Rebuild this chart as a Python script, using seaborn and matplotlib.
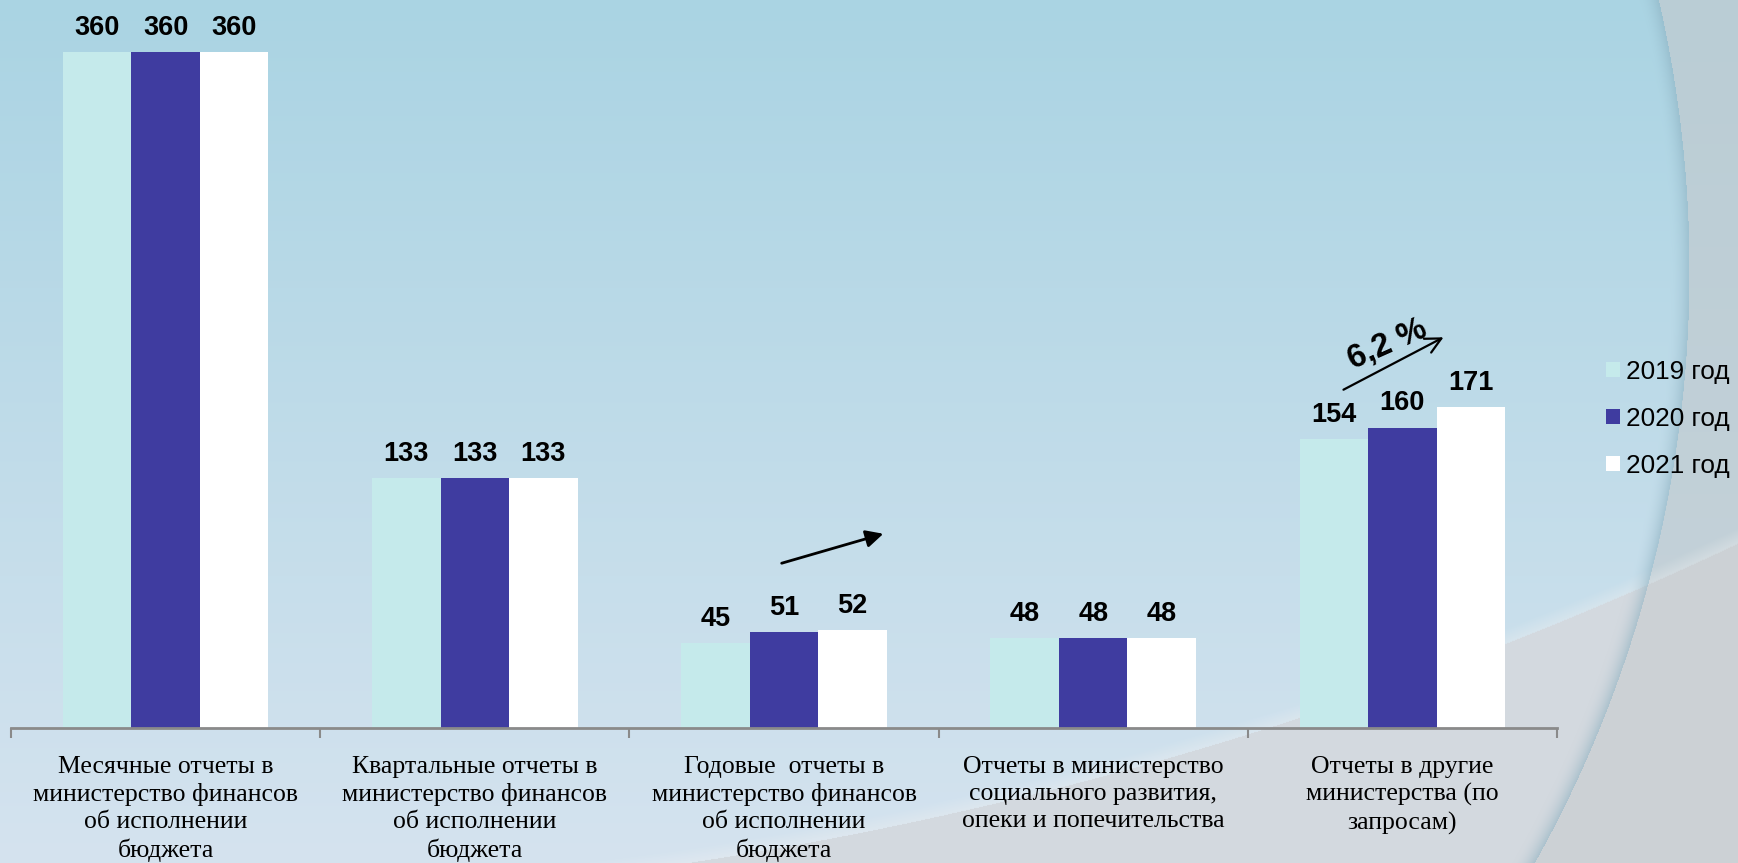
import numpy as np
import pandas as pd
import matplotlib
matplotlib.use("Agg")
import matplotlib.pyplot as plt
import seaborn as sns
from matplotlib.patches import Patch

# chart data
categories = [
    "Месячные отчеты в\nминистерство финансов\nоб исполнении\nбюджета",
    "Квартальные отчеты в\nминистерство финансов\nоб исполнении\nбюджета",
    "Годовые  отчеты в\nминистерство финансов\nоб исполнении\nбюджета",
    "Отчеты в министерство\nсоциального развития,\nопеки и попечительства",
    "Отчеты в другие\nминистерства (по\nзапросам)",
]
years = ["2019 год", "2020 год", "2021 год"]
values_2019 = [360, 133, 45, 48, 154]
values_2020 = [360, 133, 51, 48, 160]
values_2021 = [360, 133, 52, 48, 171]
year_colors = ["#c5eaeb", "#3f3ca0", "#ffffff"]

df = pd.DataFrame({
    "category": categories * 3,
    "year": [y for y in years for _ in categories],
    "value": values_2019 + values_2020 + values_2021,
})

W, H = 1738, 863
fig = plt.figure(figsize=(W / 100, H / 100), dpi=100)

# --- slide-like background (two big arcs) ---
yy, xx = np.mgrid[0:H, 0:W].astype(float)
t = (yy / H)[..., None]
inside = np.array([170, 212, 227]) * (1 - t) + np.array([213, 227, 239]) * t
outside = np.array([186, 205, 213]) * (1 - t) + np.array([200, 211, 218]) * t
d_big = np.hypot(xx - 480, yy - 271)
d_low = np.hypot(xx - 122, yy + 2885)
in_big = (d_big < 1209)[..., None]
below = (d_low > 3790)[..., None]
img = np.where(in_big, inside, outside)
grey_in = np.array([211, 217, 223])
grey_out = np.array([204, 209, 213])
img = np.where(below & in_big, grey_in, img)
img = np.where(below & ~in_big, grey_out, img)
# soft highlight above lower arc
glow = np.clip(1 - (3790 - d_low) / 14, 0, 1)[..., None] * (d_low <= 3790)[..., None]
img = img * (1 - 0.35 * glow) + 240 * 0.35 * glow
# shadow along the big arc
w = np.clip((d_big - 1190) / 19, 0, 1) ** 2 * (d_big < 1209)
img = img * (1 - 0.55 * w[..., None]) + np.array([140, 176, 192]) * 0.55 * w[..., None]

bg = fig.add_axes([0, 0, 1, 1], zorder=0)
bg.imshow(img.astype(np.uint8), extent=(0, W, H, 0), aspect="auto")
bg.axis("off")

# --- bars ---
ax = fig.add_axes([11 / W, (H - 728) / H, 1546 / W, 728 / H], zorder=1)
ax.patch.set_alpha(0)
sns.barplot(data=df, x="category", y="value", hue="year", palette=year_colors,
            width=0.665, gap=0, saturation=1, linewidth=0, legend=False, ax=ax)

for cont in ax.containers:
    ax.bar_label(cont, padding=8, fontsize=19.5, fontweight="bold",
                 family="Liberation Sans")

ax.set_xlim(-0.5, 4.5)
ax.set_ylim(0, 728 / 1.8778)
ax.set_xlabel("")
ax.set_ylabel("")
ax.set_yticks([])
for s in ["top", "right", "left"]:
    ax.spines[s].set_visible(False)
ax.spines["bottom"].set_color("#8a8a8a")
ax.spines["bottom"].set_linewidth(2)
ax.set_xticks(range(len(categories)))
ax.set_xticklabels(categories, fontsize=18.5, family="Liberation Serif",
                   linespacing=1.3)
ax.set_xticks(np.arange(-0.5, len(categories), 1), minor=True)
ax.tick_params(axis="x", which="major", length=0, pad=20)
ax.tick_params(axis="x", which="minor", length=7, width=1.5, color="#8a8a8a")

# --- legend ---
handles = [Patch(facecolor=c, edgecolor="none", label=y)
           for c, y in zip(year_colors, years)]
fig.legend(handles=handles, loc="upper left",
           bbox_to_anchor=(1606 / W, 1 - 360 / H), frameon=False,
           prop={"family": "Liberation Sans", "size": 18.8},
           handlelength=0.52, handleheight=0.52, handletextpad=0.25,
           labelspacing=0.88, borderpad=0, borderaxespad=0)

# --- growth arrows ---
fig.text(1388 / W, 1 - 345 / H, "6,2 %", rotation=24, ha="center", va="center",
         fontsize=23.5, fontweight="bold", family="Liberation Sans", zorder=3)
ax.annotate("", xy=(1446, H - 336), xytext=(1341, H - 391),
            xycoords="figure pixels", textcoords="figure pixels",
            arrowprops=dict(arrowstyle="->", lw=1.6, color="black",
                            mutation_scale=28))
ax.annotate("", xy=(886, H - 533), xytext=(779, H - 564),
            xycoords="figure pixels", textcoords="figure pixels",
            arrowprops=dict(arrowstyle="-|>", lw=2, color="black",
                            mutation_scale=26))

fig.savefig("out.png", dpi=100)
